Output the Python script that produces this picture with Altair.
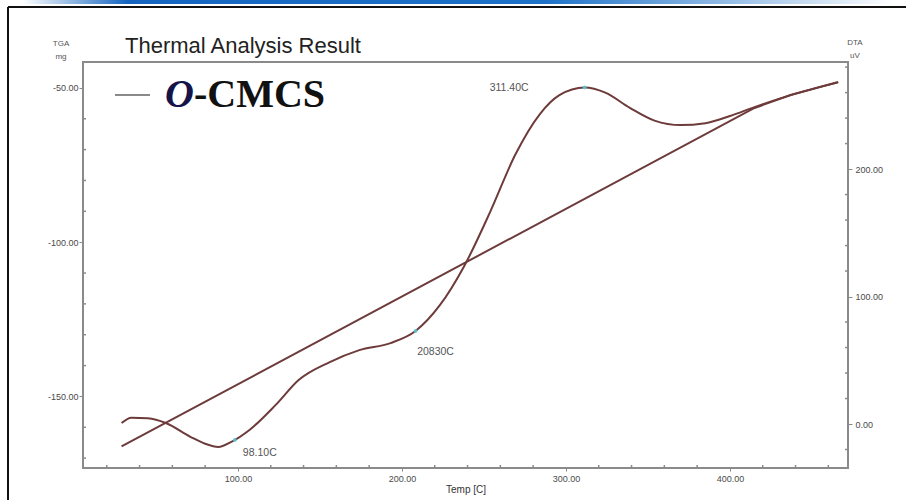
import altair as alt
import pandas as pd

# DTA trace (uV) against temperature (C)
temp_dta = [29, 35, 45, 56, 71, 80, 88, 96, 107, 123, 137, 156, 174, 193, 208.3,
            223, 238, 254, 269, 284, 296, 311.4, 324, 339, 354, 370, 385, 400,
            415, 437, 466]
dta = [0.8, 5.0, 4.5, 0.8, -10, -15.5, -18, -14, -4.7, 15, 34.5, 48.6, 58, 63.5, 73,
       93, 124, 167, 211, 243, 258, 264, 260, 248, 238, 234.5, 236, 241.6,
       248.6, 258, 268]

# TGA trace (mg)
temp_tga = [29, 415, 437, 466]
tga = [-166.2, -56.5, -52.3, -48.1]

# annotated DTA points
peak_temp = [98.1, 208.3, 311.4]
peak_dta = [-12.5, 73, 264]
peak_text = ["98.10C", "20830C", "311.40C"]

# axis tick positions
x_major = [100, 200, 300, 400]
x_minor = [20, 40, 60, 80, 120, 140, 160, 180, 220, 240, 260, 280, 320, 340, 360,
           380, 420, 440, 460]
tga_major = [-150, -100, -50]
tga_minor = [-170, -160, -140, -130, -120, -110, -90, -80, -70, -60]
dta_major = [0, 100, 200]
dta_minor = [-20, 20, 40, 60, 80, 120, 140, 160, 180, 220, 240, 260, 280]

X_DOMAIN = [5.5, 472]
TGA_DOMAIN = [-173.2, -41.6]
DTA_DOMAIN = [-34.5, 284]

W, H = 765, 406
LINE = "#6e3b3b"
AXIS = "#8a8a8a"
LAB = "#4a4a4a"
FONT = "Liberation Sans"
LABEL_EXPR = "replace(format(datum.value, '.2f'), '\u2212', '-')"

X = alt.X("temp:Q", scale=alt.Scale(domain=X_DOMAIN, nice=False, zero=False),
          axis=alt.Axis(values=x_major, labelExpr=LABEL_EXPR, grid=False,
                        labelFontSize=9, labelColor=LAB, labelFont=FONT,
                        tickColor=AXIS, tickSize=3, domain=False, title="Temp [C]",
                        titleFont=FONT, titleFontSize=10, titleFontWeight="normal",
                        titleColor="#333333", titlePadding=1, labelPadding=3))
Y_TGA = alt.Y("tga:Q", scale=alt.Scale(domain=TGA_DOMAIN, nice=False, zero=False),
              axis=alt.Axis(orient="left", values=tga_major, labelExpr=LABEL_EXPR,
                            grid=False, labelFontSize=9, labelColor=LAB,
                            labelFont=FONT, tickColor=AXIS, tickSize=4,
                            domain=False, title=None, labelPadding=1))
Y_DTA = alt.Y("dta:Q", scale=alt.Scale(domain=DTA_DOMAIN, nice=False, zero=False),
              axis=alt.Axis(orient="right", values=dta_major, labelExpr=LABEL_EXPR,
                            grid=False, labelFontSize=9, labelColor=LAB,
                            labelFont=FONT, tickColor=AXIS, tickSize=4,
                            domain=False, title=None, labelPadding=3))

df_dta = pd.DataFrame({"temp": temp_dta, "dta": dta})
df_tga = pd.DataFrame({"temp": temp_tga, "tga": tga})
df_pk = pd.DataFrame({"temp": peak_temp, "dta": peak_dta, "lab": peak_text})

tga_line = alt.Chart(df_tga).mark_line(color=LINE, strokeWidth=2).encode(x=X, y=Y_TGA)

tga_ticks = alt.Chart(pd.DataFrame({"tga": tga_minor})).mark_rule(
    color=AXIS, strokeWidth=1.5).encode(y=Y_TGA, x=alt.value(0), x2=alt.value(3))

x_ticks = alt.Chart(pd.DataFrame({"temp": x_minor})).mark_rule(
    color=AXIS, strokeWidth=1.5).encode(x=X, y=alt.value(H - 3), y2=alt.value(H))

dta_line = alt.Chart(df_dta).mark_line(color=LINE, strokeWidth=2,
                                       interpolate="monotone").encode(x=X, y=Y_DTA)

dta_ticks = alt.Chart(pd.DataFrame({"dta": dta_minor})).mark_rule(
    color=AXIS, strokeWidth=1.5).encode(y=Y_DTA, x=alt.value(W - 3), x2=alt.value(W))

pk_pts = alt.Chart(df_pk).mark_point(shape="circle", filled=True, size=14,
                                     color="#54c6d3", opacity=0.9).encode(x=X, y=Y_DTA)

pk_base = alt.Chart(df_pk).encode(x=X, y=Y_DTA, text="lab:N")
pk_labels = alt.layer(
    pk_base.transform_filter(alt.datum.temp < 150).mark_text(
        align="left", dx=8, dy=13, fontSize=10.5, font=FONT, color="#555555"),
    pk_base.transform_filter((alt.datum.temp > 150) & (alt.datum.temp < 250)).mark_text(
        align="center", dx=20, dy=21, fontSize=10.5, font=FONT, color="#555555"),
    pk_base.transform_filter(alt.datum.temp > 250).mark_text(
        align="right", dx=-56, dy=1, fontSize=10.5, font=FONT, color="#555555"),
)

one = alt.Data(values=[{}])


def txt(s, x, y, **kw):
    return alt.Chart(one).mark_text(**kw).encode(
        x=alt.value(x), y=alt.value(y), text=alt.value(s))


def rule(x1, x2, y1, y2, **kw):
    return alt.Chart(one).mark_rule(**kw).encode(
        x=alt.value(x1), x2=alt.value(x2), y=alt.value(y1), y2=alt.value(y2))


band = alt.Chart(one).mark_rect(
    color=alt.Gradient(gradient="linear", x1=0, x2=1, y1=0, y2=0,
                       stops=[alt.GradientStop(color="#ffffff", offset=0),
                              alt.GradientStop(color="#1565c0", offset=0.12),
                              alt.GradientStop(color="#1e72c8", offset=0.6),
                              alt.GradientStop(color="#ffffff", offset=1)])
).encode(x=alt.value(-60), x2=alt.value(810), y=alt.value(-62), y2=alt.value(-58))

decor = alt.layer(
    band,
    rule(-75, 823, -55, -55, color="#111111", strokeWidth=2),
    rule(-75, -75, -55, 438, color="#111111", strokeWidth=2),
    txt("Thermal Analysis Result", 42, -16, align="left", fontSize=22, font=FONT,
        color="#222222"),
    txt("TGA", -22, -18, align="center", fontSize=8, font=FONT, color="#555555"),
    txt("mg", -22, -5, align="center", fontSize=8, font=FONT, color="#555555"),
    txt("DTA", 772, -19, align="center", fontSize=8, font=FONT, color="#555555"),
    txt("uV", 772, -6, align="center", fontSize=8, font=FONT, color="#555555"),
    rule(32, 67, 33, 33, color="#8a8a8a", strokeWidth=2),
    txt("O", 82, 33, align="left", fontSize=40, font="Liberation Serif",
        fontStyle="italic", fontWeight="bold", color="#14144a"),
    txt("-CMCS", 111, 33, align="left", fontSize=40, font="Liberation Serif",
        fontWeight="bold", color="#111111"),
)

chart = alt.layer(
    alt.layer(tga_line, tga_ticks, x_ticks),
    alt.layer(dta_line, dta_ticks, pk_pts, pk_labels),
    decor,
).resolve_scale(y="independent").properties(
    width=W, height=H, autosize="none",
    padding={"left": 83, "top": 62, "right": 58, "bottom": 32},
    background="white",
).configure_view(stroke=AXIS, strokeWidth=2)

chart.save("out.html", embed_options={"renderer": "svg", "actions": False})
